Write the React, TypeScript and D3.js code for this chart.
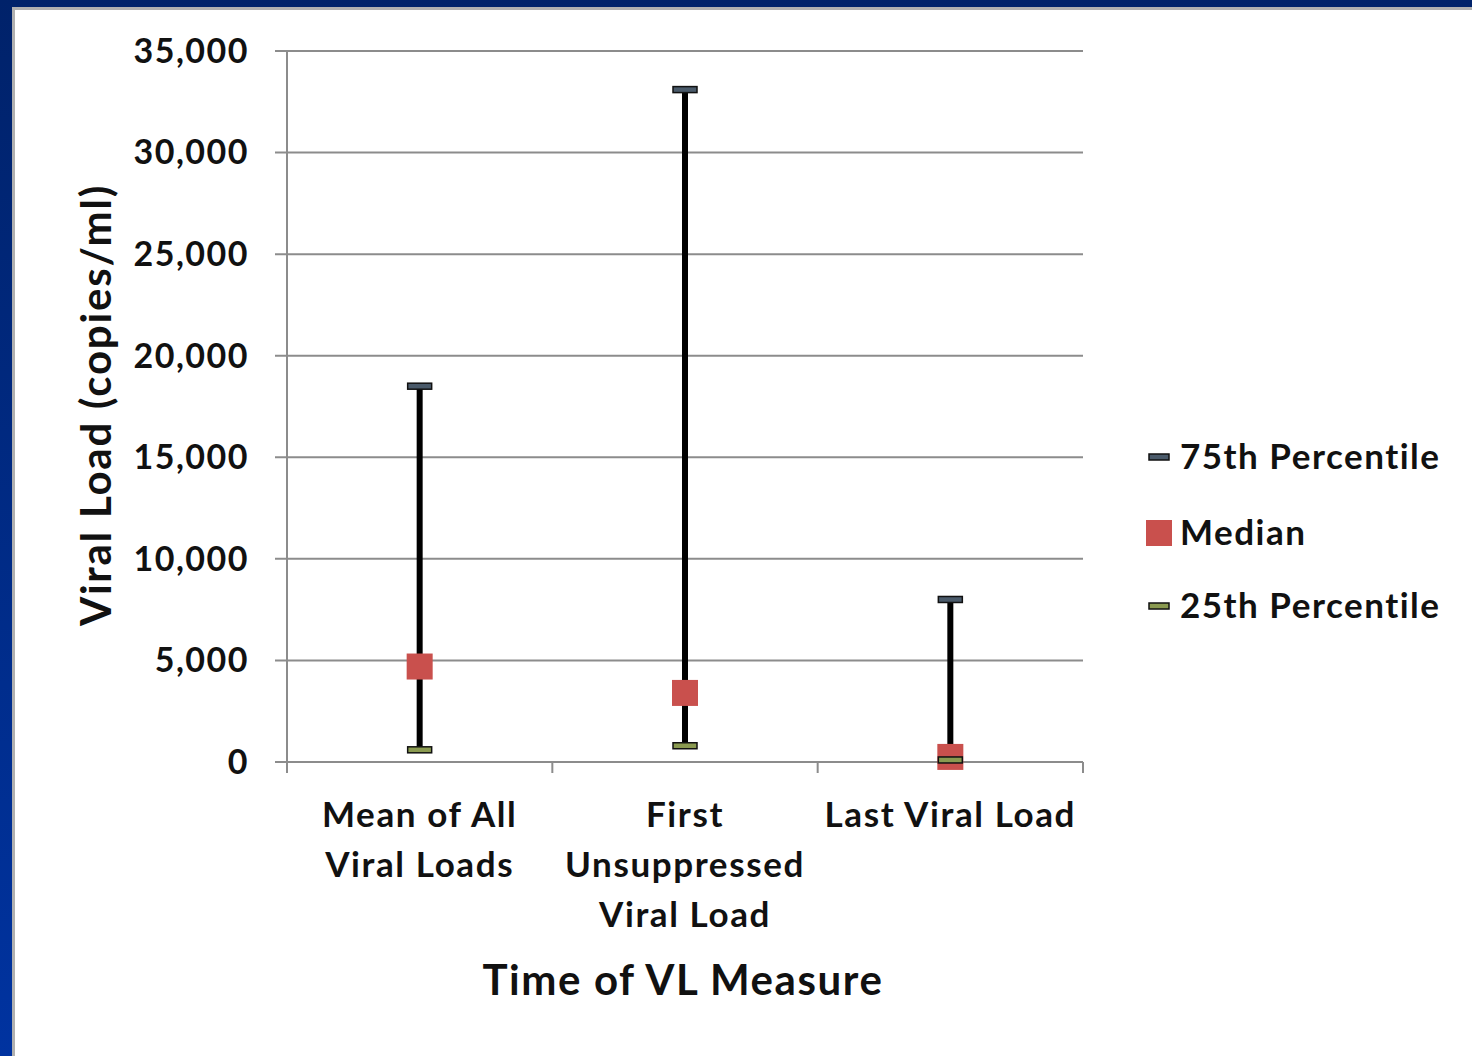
import React from "react";
import * as d3 from "d3";

const categories: string[][] = [
  ["Mean of All", "Viral Loads"],
  ["First", "Unsuppressed", "Viral Load"],
  ["Last Viral Load"],
];
const p75: number[] = [18500, 33100, 8000];
const median: number[] = [4700, 3400, 250];
const p25: number[] = [600, 800, 100];
const yTicks: number[] = [0, 5000, 10000, 15000, 20000, 25000, 30000, 35000];
const legendLabels: string[] = ["75th Percentile", "Median", "25th Percentile"];

const FONT = "Lato, 'Open Sans', sans-serif";

export default function App() {
  const W = 1472, H = 1056;
  const left = 287, right = 1083, top = 51, bottom = 762;
  const y = d3.scaleLinear().domain([0, 35000]).range([bottom, top]);
  const x = d3.scaleBand().domain(categories.map((_, i) => String(i))).range([left, right]).padding(0);
  const fmt = d3.format(",");
  const cx = (i: number) => (x(String(i)) as number) + x.bandwidth() / 2;

  return (
    <svg width={W} height={H} style={{ position: "absolute", left: 0, top: 0 }}>
      <defs>
        <linearGradient id="bg" x1="0" y1="0" x2="0" y2="1">
          <stop offset="0" stopColor="#00226a" />
          <stop offset="1" stopColor="#0033a0" />
        </linearGradient>
      </defs>
      <rect x={0} y={0} width={W} height={H} fill="url(#bg)" />
      <rect x={12} y={7} width={W - 12} height={H - 7} fill="#b0b0b0" />
      <rect x={15} y={10} width={W - 15} height={H - 10} fill="#ffffff" />

      {/* gridlines */}
      {yTicks.map((t) => (
        <line key={t} x1={left - 12} x2={right} y1={y(t)} y2={y(t)} stroke="#8c8c8c" strokeWidth={2} />
      ))}
      {/* axes */}
      <line x1={left} x2={left} y1={top} y2={bottom + 10} stroke="#8c8c8c" strokeWidth={2} />
      {[0, 1, 2, 3].map((i) => {
        const xx = left + i * x.bandwidth();
        return <line key={i} x1={xx} x2={xx} y1={bottom} y2={bottom + 11} stroke="#8c8c8c" strokeWidth={2} />;
      })}
      {/* y tick labels */}
      {yTicks.map((t) => (
        <text key={t} x={249} y={y(t)} dy="0.35em" textAnchor="end" fontFamily={FONT} fontWeight={700} fontSize={34} letterSpacing={1.5} fill="#111">
          {fmt(t)}
        </text>
      ))}
      {/* y title */}
      <text transform={`translate(111,405) rotate(-90)`} textAnchor="middle" fontFamily={FONT} fontWeight={700} fontSize={42} letterSpacing={1.8} fill="#111">
        Viral Load (copies/ml)
      </text>
      {/* x labels */}
      {categories.map((lines, i) => (
        <text key={i} textAnchor="middle" fontFamily={FONT} fontWeight={700} fontSize={35} letterSpacing={1.6} fill="#111">
          {lines.map((l, j) => (
            <tspan key={j} x={cx(i)} y={827 + j * 50}>{l}</tspan>
          ))}
        </text>
      ))}
      <text x={683} y={995} textAnchor="middle" fontFamily={FONT} fontWeight={700} fontSize={42} letterSpacing={1.6} fill="#111">
        Time of VL Measure
      </text>

      {/* high-low lines */}
      {categories.map((_, i) => (
        <line key={i} x1={cx(i)} x2={cx(i)} y1={y(p75[i])} y2={y(p25[i])} stroke="#000" strokeWidth={6} />
      ))}
      {/* 75th caps */}
      {p75.map((v, i) => (
        <rect key={i} x={cx(i) - 12} y={y(v) - 3} width={24} height={6} fill="#4a5a6a" stroke="#111" strokeWidth={1.5} />
      ))}
      {/* medians */}
      {median.map((v, i) => (
        <rect key={i} x={cx(i) - 13} y={y(v) - 13} width={26} height={26} fill="#c9504d" />
      ))}
      {/* 25th caps */}
      {p25.map((v, i) => (
        <rect key={i} x={cx(i) - 12} y={y(v) - 3} width={24} height={6} fill="#8a9a50" stroke="#111" strokeWidth={1.5} />
      ))}

      {/* legend */}
      {legendLabels.map((l, i) => {
        const ly = [457, 533, 606][i];
        return (
          <g key={l}>
            {i === 1 ? (
              <rect x={1146} y={ly - 13} width={26} height={26} fill="#c9504d" />
            ) : (
              <rect x={1149} y={ly - 3} width={20} height={6} fill={i === 0 ? "#4a5a6a" : "#8a9a50"} stroke="#111" strokeWidth={1.5} />
            )}
            <text x={1180} y={ly} dy="0.35em" fontFamily={FONT} fontWeight={700} fontSize={35} letterSpacing={1.5} fill="#111">
              {l}
            </text>
          </g>
        );
      })}
    </svg>
  );
}
